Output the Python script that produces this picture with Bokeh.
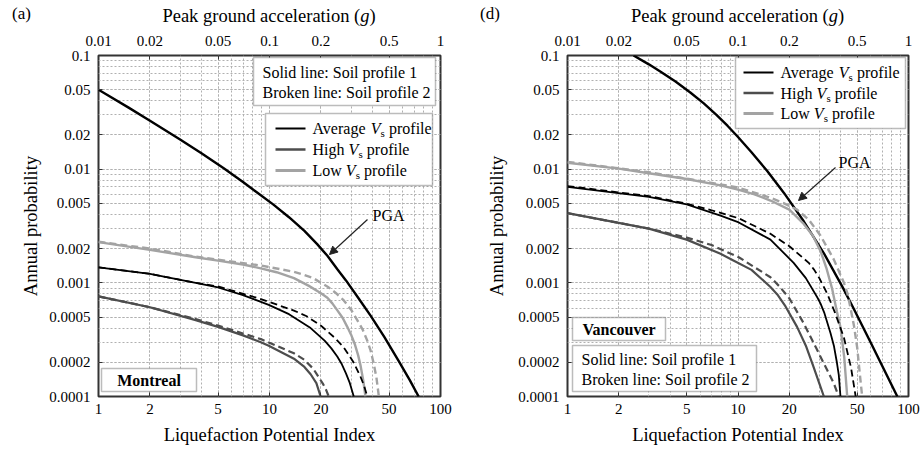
from bokeh.plotting import figure
from bokeh.layouts import row, column
from bokeh.models import (LogAxis, FixedTicker, Label, BoxAnnotation, Arrow, Div,
                          NormalHead, CustomJSTickFormatter)
from bokeh.embed import file_html
from bokeh.resources import INLINE

# ---------------- data ----------------
lpi_ticks = [1, 2, 5, 10, 20, 50, 100]
lpi_tick_labels = ["1", "2", "5", "10", "20", "50", "100"]
pga_tick_labels = ["0.01", "0.02", "0.05", "0.1", "0.2", "0.5", "1"]
prob_ticks = [0.0001, 0.0002, 0.0005, 0.001, 0.002, 0.005, 0.01, 0.02, 0.05, 0.1]
prob_tick_labels = ["0.0001", "0.0002", "0.0005", "0.001", "0.002", "0.005",
                    "0.01", "0.02", "0.05", "0.1"]

# Montreal (a)
mtl_pga_lpi = [1, 1.5, 2, 3, 4, 5.4, 7, 8.5, 10.5, 13, 16, 19, 21.8, 25, 28, 33, 39, 47, 57, 66, 74.5]
mtl_pga_p = [0.05, 0.0348, 0.0267, 0.0182, 0.0138, 0.0102, 0.0077, 0.0062, 0.0049, 0.00378, 0.00286,
             0.00219, 0.00173, 0.00131, 0.00105, 0.00074, 0.000515, 0.000333, 0.000205, 0.00014, 0.0001]

mtl_avg_s_lpi = [1, 2, 3.7, 5, 7, 9.9, 13, 17.4, 21, 23, 24.9, 26.5, 28, 29.5, 31.1]
mtl_avg_s_p = [0.00137, 0.0012, 0.001, 0.00091, 0.00078, 0.00064, 0.00053, 0.0004, 0.00031,
               0.000265, 0.000225, 0.000192, 0.00016, 0.000131, 0.0001]
mtl_avg_d_lpi = [1, 2, 3.7, 5, 8.9, 13.9, 16.5, 20, 24, 27.2, 31, 34, 35.7, 37.3]
mtl_avg_d_p = [0.00137, 0.0012, 0.001, 0.00093, 0.00072, 0.00057, 0.000508, 0.00042, 0.00033,
               0.00027, 0.0002, 0.00015, 0.000125, 0.0001]

mtl_high_s_lpi = [1, 2, 3.7, 5, 7, 8.9, 9.9, 13.9, 16, 17.4, 18.8, 19.9]
mtl_high_s_p = [0.00076, 0.00061, 0.00047, 0.00041, 0.000345, 0.0003, 0.00028, 0.000215,
                0.000182, 0.000157, 0.000131, 0.0001]
mtl_high_d_lpi = [1, 2, 3.7, 5, 8.9, 13.9, 16, 18, 20.5, 21.4, 22.2]
mtl_high_d_p = [0.00076, 0.00061, 0.00048, 0.00042, 0.00032, 0.00024, 0.00021, 0.000176,
                0.00013, 0.000115, 0.0001]

mtl_low_s_lpi = [1, 2, 3.7, 5, 7, 8.9, 11, 13.9, 17, 20, 21.8, 23.3, 25, 26.8, 28.5, 30, 31.5,
                 33, 34, 35.3, 36.4]
mtl_low_s_p = [0.00228, 0.00195, 0.00168, 0.00157, 0.00145, 0.00134, 0.00124, 0.0011, 0.00094,
               0.00081, 0.00074, 0.00066, 0.00057, 0.00049, 0.00041, 0.00035, 0.00029, 0.00023,
               0.00019, 0.00014, 0.0001]
mtl_low_d_lpi = [1, 2, 3.7, 5, 8.9, 13.9, 16, 18, 22, 24.5, 27.2, 30, 32.6, 35, 37.3, 39, 40.7,
                 42.2, 43.6]
mtl_low_d_p = [0.0023, 0.002, 0.0017, 0.0016, 0.00142, 0.00125, 0.00117, 0.0011, 0.00092,
               0.00081, 0.0007, 0.00058, 0.00047, 0.00039, 0.00031, 0.000254, 0.000194,
               0.000147, 0.0001]

# Vancouver (d)
van_pga_lpi = [2.44, 3, 3.5, 4.3, 5.25, 6.3, 7.5, 8.7, 10, 12, 14.8, 18.6, 24.3, 31.9, 40.9, 47, 60, 86]
van_pga_p = [0.1, 0.0836, 0.0724, 0.059, 0.0473, 0.0379, 0.0299, 0.024, 0.0192, 0.0141, 0.00968,
             0.00618, 0.00348, 0.00182, 0.000927, 0.00062, 0.000299, 0.0001]

van_avg_s_lpi = [1, 3, 5, 7.9, 10.1, 15.5, 21.2, 25, 29.1, 30.5, 32, 34.9, 36.5, 38, 39, 39.9]
van_avg_s_p = [0.007, 0.0057, 0.0049, 0.0039, 0.0034, 0.0024, 0.0015, 0.0011, 0.00075,
               0.000656, 0.00055, 0.00036, 0.00028, 0.0002, 0.000155, 0.0001]
van_avg_d_lpi = [1, 3, 5, 7, 10.1, 15.5, 20, 26, 28, 30, 33.4, 37, 41.8, 46, 49]
van_avg_d_p = [0.0071, 0.0058, 0.00497, 0.00435, 0.0037, 0.0027, 0.0021, 0.0015, 0.0013,
               0.0011, 0.0008, 0.00055, 0.00033, 0.00018, 0.0001]

van_high_s_lpi = [1, 3, 5, 7.9, 9.4, 12, 15.5, 17, 19, 22.2, 25, 27.8, 29.8, 31.9]
van_high_s_p = [0.0041, 0.003, 0.0024, 0.0018, 0.00157, 0.0013, 0.00092, 0.00079, 0.00062,
                0.00041, 0.00028, 0.00018, 0.000134, 0.0001]
van_high_d_lpi = [1, 3, 5, 7, 10.1, 15.5, 17.5, 20, 24.3, 29, 33.4, 36.5, 39]
van_high_d_p = [0.0041, 0.003, 0.0025, 0.00215, 0.00168, 0.00112, 0.00093, 0.00073, 0.00044,
                0.00026, 0.00017, 0.00013, 0.0001]

van_low_s_lpi = [1, 2, 3, 5, 7.9, 10, 12.5, 15.5, 20, 24.3, 27.5, 30.5, 33, 35.7, 38, 40, 42, 43.7]
van_low_s_p = [0.0114, 0.0101, 0.0092, 0.0082, 0.0072, 0.0066, 0.006, 0.0053, 0.0044, 0.0033,
               0.0026, 0.0019, 0.00135, 0.00088, 0.00056, 0.0004, 0.00022, 0.0001]
van_low_d_lpi = [1, 3, 10, 15.5, 18.5, 22.2, 26, 30.5, 36.5, 41.8, 43.8, 45.7, 48, 50, 52, 53.5]
van_low_d_p = [0.0116, 0.0094, 0.0069, 0.0056, 0.00503, 0.0044, 0.0036, 0.0026, 0.0016, 0.001,
               0.00081, 0.0006, 0.00041, 0.00027, 0.00015, 0.0001]

legend_texts = ["Average", "High", "Low"]
soil_texts = ["Solid line: Soil profile 1", "Broken line: Soil profile 2"]

# ---------------- styling ----------------
FONT = "Liberation Serif"
C_AVG, C_HIGH, C_LOW = "#000000", "#4d4d4d", "#a3a3a3"
W_AVG, W_HIGH, W_LOW, W_PGA = 1.8, 2.2, 2.4, 2.4
DASH = "7 4"
HEAD_H = 26                      # height of the html header strip (tag + top axis title)
FRAME_TOP, FRAME_H = 55, 341     # page coordinates of the plot frame
YDEC = FRAME_H / 3.0

x_minor = [m * 10 ** e for e in (0, 1) for m in range(1, 10)] + [100]
y_minor = [m * 10.0 ** e for e in (-4, -3, -2) for m in range(1, 10)] + [0.1]


def fmt(ticks, labels):
    return CustomJSTickFormatter(args=dict(t=ticks, l=labels), code="""
        for (let i = 0; i < t.length; i++) {
            if (Math.abs(t[i] / tick - 1) < 1e-6) { return l[i]; }
        }
        return '';
    """)


def header(width, tag, tag_x, title_cx):
    ff = f"font-family:'{FONT}',serif;color:black;font-style:normal;"
    html = (
        f'<div style="position:relative;width:{width}px;height:{HEAD_H}px;">'
        f'<span style="position:absolute;left:{tag_x}px;top:5px;font-size:17px;'
        f'line-height:18px;white-space:nowrap;{ff}">{tag}</span>'
        f'<span style="position:absolute;left:{title_cx - 160}px;width:320px;top:7px;'
        f'text-align:center;font-size:18.5px;line-height:19px;white-space:nowrap;{ff}">'
        f'Peak ground acceleration (<i style="font-family:\'{FONT}\',serif;">g</i>)</span></div>'
    )
    return Div(text=html, width=width, height=HEAD_H, margin=0)


def make_panel(x0, fw, bl, br, series):
    p = figure(x_axis_type="log", y_axis_type="log", x_range=(1, 100), y_range=(1e-4, 0.1),
               frame_width=fw, frame_height=FRAME_H, min_border_left=bl, min_border_right=br,
               min_border_top=FRAME_TOP - HEAD_H, min_border_bottom=450 - FRAME_TOP - FRAME_H,
               output_backend="svg", toolbar_location=None, margin=0)
    p.outline_line_color = "#333333"
    p.outline_line_width = 2
    p.background_fill_color = "white"
    p.border_fill_color = "white"

    bottom = p.below[0]
    left = p.left[0]
    xt = FixedTicker(ticks=lpi_ticks, minor_ticks=x_minor)
    yt = FixedTicker(ticks=prob_ticks, minor_ticks=y_minor)
    bottom.ticker = xt
    left.ticker = yt
    p.xgrid.ticker = xt
    p.ygrid.ticker = yt
    for g in (p.xgrid[0], p.ygrid[0]):
        g.grid_line_color = "#b0b0b0"
        g.grid_line_dash = "2 2"
        g.grid_line_width = 1
        g.minor_grid_line_color = "#b0b0b0"
        g.minor_grid_line_dash = "2 2"
        g.minor_grid_line_width = 1

    bottom.formatter = fmt(lpi_ticks, lpi_tick_labels)
    left.formatter = fmt(prob_ticks, prob_tick_labels)
    top = LogAxis(ticker=FixedTicker(ticks=lpi_ticks, minor_ticks=x_minor),
                  formatter=fmt(lpi_ticks, pga_tick_labels))
    p.add_layout(top, "above")

    bottom.axis_label = "Liquefaction Potential Index"
    left.axis_label = "Annual probability"
    for ax in (bottom, left, top):
        ax.axis_line_color = None
        ax.major_tick_in = 4
        ax.major_tick_out = 0
        ax.minor_tick_in = 0
        ax.minor_tick_out = 0
        ax.major_tick_line_color = "#333333"
        ax.major_label_text_font = FONT
        ax.major_label_text_font_size = "15px"
        ax.major_label_text_color = "black"
        ax.axis_label_text_font = FONT
        ax.axis_label_text_font_size = "18.5px"
        ax.axis_label_text_font_style = "normal"
        ax.axis_label_text_color = "black"
    bottom.major_label_standoff = 7
    bottom.axis_label_standoff = 8
    top.major_label_standoff = 10
    left.major_label_standoff = 8
    left.axis_label_standoff = 5 if x0 < 300 else 8

    for (xs, ys, color, width, dash) in series:
        p.line(xs, ys, line_color=color, line_width=width, line_dash=dash)

    # pixel -> data helpers (for annotations only)
    dec = fw / 2.0

    def dx(px):
        return 10 ** ((px - x0) / dec)

    def dy(py):
        return 10 ** (-1 - (py - FRAME_TOP) / YDEC)

    def label(px, py, text, size="16px", style="normal", align="left"):
        p.add_layout(Label(x=dx(px), y=dy(py), text=text, text_font=FONT, text_font_size=size,
                           text_font_style=style, text_align=align, text_baseline="middle",
                           text_color="black"))

    def box(l, t, r, b):
        p.add_layout(BoxAnnotation(left=dx(l), right=dx(r), top=dy(t), bottom=dy(b),
                                   fill_color="white", fill_alpha=1.0,
                                   line_color="#222222", line_width=1.5))

    def seg(x1, y1, x2, y2, color, width, head=None):
        p.add_layout(Arrow(x_start=dx(x1), y_start=dy(y1), x_end=dx(x2), y_end=dy(y2),
                           line_color=color, line_width=width, end=head))

    p._helpers = (dx, dy, label, box, seg)
    return p


def add_legend(p, bx, by, lx, ly, item_y, sx0, sx1, tx):
    dx, dy, label, box, seg = p._helpers
    box(bx, by, lx, ly)
    pre_w = {"Average": 58.2, "High": 36.0, "Low": 33.3}
    styles = [(C_AVG, W_AVG), (C_HIGH, W_HIGH), (C_LOW, W_LOW)]
    for txt, yy, (c, w) in zip(legend_texts, item_y, styles):
        seg(sx0, yy, sx1, yy, c, w + 0.4)
        label(tx, yy, txt)
        vx = tx + pre_w[txt]
        label(vx, yy, "V", style="italic")
        label(vx + 9.9, yy + 4.5, "s", size="11px")
        label(vx + 9.9 + 4.4 + 4.0, yy, "profile")


def add_soil(p, l, t, r, b, tx, ys):
    dx, dy, label, box, seg = p._helpers
    box(l, t, r, b)
    for txt, yy in zip(soil_texts, ys):
        label(tx, yy, txt)


# ---------------- panel (a) Montreal ----------------
mtl_series = [
    (mtl_pga_lpi, mtl_pga_p, C_AVG, W_PGA, "solid"),
    (mtl_low_d_lpi, mtl_low_d_p, C_LOW, W_LOW, DASH),
    (mtl_low_s_lpi, mtl_low_s_p, C_LOW, W_LOW, "solid"),
    (mtl_high_d_lpi, mtl_high_d_p, C_HIGH, W_HIGH, DASH),
    (mtl_high_s_lpi, mtl_high_s_p, C_HIGH, W_HIGH, "solid"),
    (mtl_avg_d_lpi, mtl_avg_d_p, C_AVG, W_AVG, DASH),
    (mtl_avg_s_lpi, mtl_avg_s_p, C_AVG, W_AVG, "solid"),
]
pa = make_panel(98, 342, 98, 20, mtl_series)
add_soil(pa, 253, 57, 435, 105, 262, [72, 92])
add_legend(pa, 265, 113, 432, 185, [128, 149, 170], 275, 305, 312)
_, _, la, bxa, sga = pa._helpers
bxa(101, 368, 196, 391)
la(148.5, 380, "Montreal", style="bold", align="center")
la(372, 215, "PGA")
sga(367, 219, 329, 254, "#222222", 1.2,
    NormalHead(size=8, fill_color="#222222", line_color="#222222"))

# ---------------- panel (d) Vancouver ----------------
van_series = [
    (van_pga_lpi, van_pga_p, C_AVG, W_PGA, "solid"),
    (van_low_d_lpi, van_low_d_p, C_LOW, W_LOW, DASH),
    (van_low_s_lpi, van_low_s_p, C_LOW, W_LOW, "solid"),
    (van_high_d_lpi, van_high_d_p, C_HIGH, W_HIGH, DASH),
    (van_high_s_lpi, van_high_s_p, C_HIGH, W_HIGH, "solid"),
    (van_avg_d_lpi, van_avg_d_p, C_AVG, W_AVG, DASH),
    (van_avg_s_lpi, van_avg_s_p, C_AVG, W_AVG, "solid"),
]
pd_ = make_panel(567, 341, 107, 14, van_series)
add_legend(pd_, 735, 57, 905, 128, [72, 92.5, 113], 743, 773, 780)
_, _, ld, bxd, sgd = pd_._helpers
bxd(572, 317, 665, 340)
ld(618.5, 328.5, "Vancouver", style="bold", align="center")
add_soil(pd_, 572, 345, 756, 391, 581, [359, 379])
ld(838, 162, "PGA")
sgd(835, 167, 798, 200, "#222222", 1.2,
    NormalHead(size=8, fill_color="#222222", line_color="#222222"))

head_a = header(460, "(a)", 12, 98 + 171)
head_d = header(462, "(d)", 20, 567 + 170.5 - 460)

layout = row(column(head_a, pa, spacing=0), column(head_d, pd_, spacing=0), spacing=0)
open("out.html", "w").write(file_html(layout, INLINE))
